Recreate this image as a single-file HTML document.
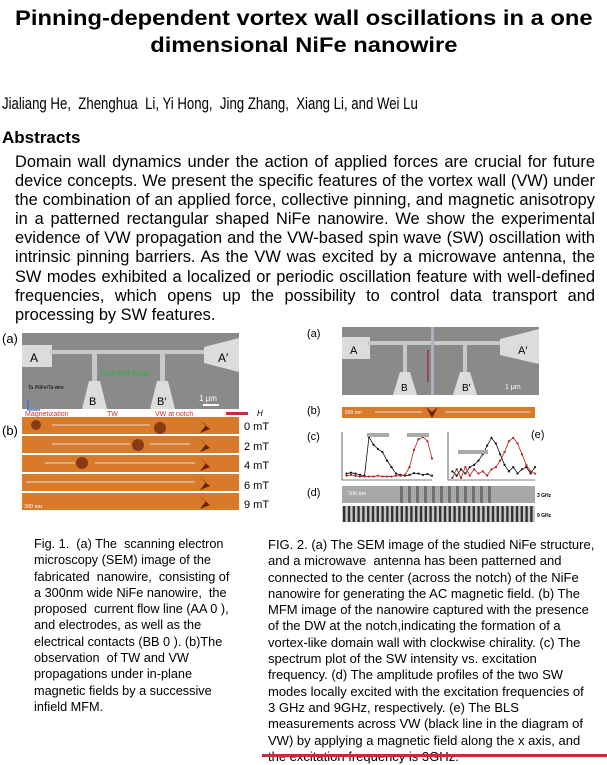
<!DOCTYPE html>
<html><head><meta charset="utf-8">
<style>
html,body{margin:0;padding:0;background:#fff;}
body{width:607px;height:757px;position:relative;overflow:hidden;font-family:"Liberation Sans",Arial,sans-serif;color:#000;}
.abs{position:absolute;}
.title{left:0;width:607px;text-align:center;font-weight:bold;font-size:21px;line-height:27px;top:5px;transform:scaleX(1.13);transform-origin:301px 0;}
.ab{left:15px;width:580px;top:153px;font-size:16.4px;line-height:19.1px;}
.ab div{text-align:justify;text-align-last:justify;white-space:nowrap;}
.ab div.last{text-align-last:left;}
.cap{font-size:13px;line-height:16.3px;}
.cap div{white-space:nowrap;}
</style></head>
<body>
<div class="abs title">Pinning-dependent vortex wall oscillations in a one<br>dimensional NiFe nanowire</div>
<div class="abs" style="left:2px;top:95px;font-size:16.5px;transform:scaleX(0.80);transform-origin:0 0;white-space:nowrap">Jialiang He,&nbsp; Zhenghua&nbsp; Li, Yi Hong,&nbsp; Jing Zhang,&nbsp; Xiang Li, and Wei Lu</div>
<div class="abs" style="left:2px;top:128px;font-size:17px;font-weight:bold">Abstracts</div>
<div class="abs ab">
<div>Domain wall dynamics under the action of applied forces are crucial for future</div>
<div>device concepts. We present the specific features of the vortex wall (VW) under</div>
<div>the combination of an applied force, collective pinning, and magnetic anisotropy</div>
<div>in a patterned rectangular shaped NiFe nanowire. We show the experimental</div>
<div>evidence of VW propagation and the VW-based spin wave (SW) oscillation with</div>
<div>intrinsic pinning barriers. As the VW was excited by a microwave antenna, the</div>
<div>SW modes exhibited a localized or periodic oscillation feature with well-defined</div>
<div>frequencies, which opens up the possibility to control data transport and</div>
<div class="last">processing by SW features.</div>
</div>

<!-- Figure 1 -->
<svg class="abs" style="left:0;top:325px" width="300" height="195">
<text x="2" y="18" font-size="13" font-family="Liberation Sans">(a)</text>
<g>
<rect x="22" y="8" width="217" height="76" fill="#8a8a8a"/>
<rect x="22" y="20" width="30" height="22" fill="#dcdcdc"/>
<text x="30" y="37" font-size="12" font-family="Liberation Sans">A</text>
<rect x="50" y="25" width="160" height="4" fill="#c8c8c8"/>
<polygon points="204,22 239,13 239,47 204,38" fill="#dcdcdc"/>
<text x="218" y="37" font-size="12" font-family="Liberation Sans">A′</text>
<rect x="92" y="28" width="5" height="30" fill="#c8c8c8"/>
<rect x="160" y="28" width="5" height="30" fill="#c8c8c8"/>
<polygon points="89,56 100,56 107,84 82,84" fill="#dcdcdc"/>
<polygon points="157,56 168,56 175,84 150,84" fill="#dcdcdc"/>
<text x="89" y="80" font-size="11" font-family="Liberation Sans">B</text>
<text x="157" y="80" font-size="11" font-family="Liberation Sans">B′</text>
<text x="100" y="51" font-size="9" fill="#2fae4a" font-family="Liberation Sans">Current flow</text>
<text x="28" y="64" font-size="5" fill="#000" font-family="Liberation Sans">Ta /NiFe/Ta wire</text>
<text x="199" y="76" font-size="8" fill="#fff" font-family="Liberation Sans">1 μm</text>
<rect x="203" y="79" width="16" height="2" fill="#fff"/>
<path d="M28 75 V85 H40" stroke="#3366cc" stroke-width="1.2" fill="none"/>
</g>
<text x="25" y="91" font-size="7" fill="#d03030" font-family="Liberation Sans">Magnetization</text>
<text x="107" y="91" font-size="7" fill="#d03030" font-family="Liberation Sans">TW</text>
<text x="155" y="91" font-size="7" fill="#d03030" font-family="Liberation Sans">VW at notch</text>
<rect x="226" y="87" width="22" height="3" fill="#c0303a"/>
<text x="257" y="91" font-size="8" font-style="italic" font-family="Liberation Sans">H</text>
<text x="2" y="110" font-size="13" font-family="Liberation Sans">(b)</text>
<g>
<rect x="22" y="92" width="217" height="17" fill="#d97a2a"/>
<rect x="22" y="111" width="217" height="17" fill="#d97a2a"/>
<rect x="22" y="130" width="217" height="17" fill="#d97a2a"/>
<rect x="22" y="149" width="217" height="17" fill="#d97a2a"/>
<rect x="22" y="168" width="217" height="17" fill="#d97a2a"/>
<g fill="#8a3a12"><circle cx="36" cy="100" r="5"/><circle cx="160" cy="103" r="6"/><circle cx="138" cy="120" r="6"/><circle cx="82" cy="138" r="6"/></g>
<g fill="#6b2208"><polygon points="198,94 206,100 200,108 210,104"/><polygon points="198,113 206,119 200,127 210,123"/><polygon points="198,132 206,138 200,146 210,142"/><polygon points="198,151 206,157 200,165 210,161"/><polygon points="198,170 206,176 200,184 210,180"/></g>
<g stroke="#ddd" stroke-width="1"><line x1="52" y1="100" x2="150" y2="100"/><line x1="52" y1="119" x2="130" y2="119"/><line x1="150" y1="119" x2="190" y2="119"/><line x1="45" y1="138" x2="75" y2="138"/><line x1="95" y1="138" x2="195" y2="138"/><line x1="26" y1="157" x2="195" y2="157"/></g>
<text x="24" y="183" font-size="6" fill="#fff" font-family="Liberation Serif">300 nm</text>
</g>
<g font-size="11" font-family="Liberation Sans">
<text x="244" y="105">0 mT</text><text x="244" y="125">2 mT</text><text x="244" y="144">4 mT</text><text x="244" y="164">6 mT</text><text x="244" y="183">9 mT</text>
</g>
</svg>

<!-- Figure 2 -->
<svg class="abs" style="left:300px;top:320px" width="307" height="210">
<g font-size="11" font-family="Liberation Sans"><text x="7" y="17">(a)</text><text x="7" y="94">(b)</text><text x="7" y="120">(c)</text><text x="7" y="176">(d)</text></g>
<g>
<rect x="42" y="7" width="197" height="68" fill="#8a8a8a"/>
<rect x="42" y="17" width="28" height="22" fill="#dcdcdc"/>
<text x="50" y="34" font-size="11" font-family="Liberation Sans">A</text>
<rect x="68" y="21" width="140" height="4" fill="#c8c8c8"/>
<polygon points="200,19 239,9 239,44 200,35" fill="#dcdcdc"/>
<text x="218" y="34" font-size="11" font-family="Liberation Sans">A′</text>
<rect x="103" y="24" width="4" height="30" fill="#c8c8c8"/><rect x="163" y="24" width="4" height="30" fill="#c8c8c8"/>
<polygon points="100,52 110,52 117,75 93,75" fill="#dcdcdc"/><polygon points="160,52 170,52 177,75 153,75" fill="#dcdcdc"/>
<text x="101" y="71" font-size="10" font-family="Liberation Sans">B</text><text x="162" y="71" font-size="10" font-family="Liberation Sans">B′</text>
<rect x="131" y="7" width="3" height="68" fill="#b0b0c0"/>
<line x1="128" y1="30" x2="128" y2="62" stroke="#a02020" stroke-width="1.2"/>
<text x="205" y="69" font-size="7" fill="#fff" font-family="Liberation Sans">1 μm</text>
</g>
<g>
<rect x="42" y="87" width="193" height="11" fill="#d97a2a"/>
<polygon points="126,87 132,92 138,87 132,98" fill="#6b2208"/>
<line x1="75" y1="92" x2="122" y2="92" stroke="#ddd"/><line x1="145" y1="92" x2="230" y2="92" stroke="#ddd"/>
<text x="45" y="94" font-size="5" fill="#fff">500 nm</text>
</g>
<g id="chartC"></g>
<g id="chartE"></g>
<text x="231" y="118" font-size="11" font-family="Liberation Sans">(e)</text>
<g>
<rect x="42" y="166" width="193" height="17" fill="#a8a8a8"/>
<g id="stripes3"></g>
<rect x="42" y="186" width="193" height="16" fill="#c8c8c8"/>
<g id="stripes9"></g>
<text x="48" y="175" font-size="6" fill="#fff" font-family="Liberation Serif">500 nm</text>
</g>
<g font-size="5" font-weight="bold" font-family="Liberation Sans"><text x="237" y="177">3 GHz</text><text x="237" y="197">9 GHz</text></g>
</svg>

<div class="abs cap" style="left:34px;top:536px;font-size:12.7px">
<div>Fig. 1.&nbsp; (a) The&nbsp; scanning electron</div>
<div>microscopy (SEM) image of the</div>
<div>fabricated&nbsp; nanowire,&nbsp; consisting of</div>
<div>a 300nm wide NiFe nanowire,&nbsp; the</div>
<div>proposed&nbsp; current flow line (AA 0 ),</div>
<div>and electrodes, as well as the</div>
<div>electrical contacts (BB 0 ). (b)The</div>
<div>observation&nbsp; of TW and VW</div>
<div>propagations under in-plane</div>
<div>magnetic fields by a successive</div>
<div>infield MFM.</div>
</div>
<div class="abs cap" style="left:268px;top:537px">
<div>FIG. 2. (a) The SEM image of the studied NiFe structure,</div>
<div>and a microwave&nbsp; antenna has been patterned and</div>
<div>connected to the center (across the notch) of the NiFe</div>
<div>nanowire for generating the AC magnetic field. (b) The</div>
<div>MFM image of the nanowire captured with the presence</div>
<div>of the DW at the notch,indicating the formation of a</div>
<div>vortex-like domain wall with clockwise chirality. (c) The</div>
<div>spectrum plot of the SW intensity vs. excitation</div>
<div>frequency. (d) The amplitude profiles of the two SW</div>
<div>modes locally excited with the excitation frequencies of</div>
<div>3 GHz and 9GHz, respectively. (e) The BLS</div>
<div>measurements across VW (black line in the diagram of</div>
<div>VW) by applying a magnetic field along the x axis, and</div>
<div>the excitation frequency is 3GHz.</div>
</div>
<div class="abs" style="left:262px;top:754px;width:345px;height:3px;background:#c0303a"></div>

<script>
const NS="http://www.w3.org/2000/svg";
const freqC=[0.5,1,1.5,2,2.5,3,3.5,4,4.5,5,5.5,6,6.5,7,7.5,8,8.5,9,9.5,10];
const blackC=[0.15,0.17,0.15,0.12,0.1,1.0,0.82,0.72,0.65,0.45,0.3,0.15,0.12,0.1,0.12,0.16,0.15,0.12,0.14,0.1];
const redC=[0.1,0.12,0.1,0.08,0.08,0.08,0.08,0.1,0.08,0.08,0.08,0.1,0.1,0.12,0.3,0.7,0.95,1.0,0.9,0.5];
const posE=[50,100,150,200,250,300,350,400,450,500,550,600,650,700,750,800,850,900,950,1000];
const blackE=[0.2,0.1,0.25,0.15,0.3,0.35,0.45,0.6,0.8,0.98,0.85,0.6,0.35,0.2,0.3,0.15,0.25,0.3,0.15,0.3];
const redE=[0.05,0.25,0.05,0.3,0.1,0.25,0.15,0.2,0.1,0.25,0.3,0.45,0.65,0.9,0.98,0.85,0.6,0.35,0.2,0.15];
function mk(tag,at,p){const e=document.createElementNS(NS,tag);for(const k in at)e.setAttribute(k,at[k]);p.appendChild(e);return e;}
function chart(g,xs,series,x0,x1,px0,px1,py0,py1){
  const sx=v=>px0+(v-x0)/(x1-x0)*(px1-px0), sy=v=>py1-v*(py1-py0);
  mk('path',{d:`M${px0} ${py0-5} V${py1} H${px1}`,stroke:'#000','stroke-width':0.6,fill:'none'},g);
  series.forEach(([vals,col])=>{
    const line=mk('polyline',{points:xs.map((x,i)=>sx(x)+','+sy(vals[i])).join(' '),stroke:col,'stroke-width':0.8,fill:'none'},g);
    
    
    xs.forEach((x,i)=>{const c=mk('circle',{cx:sx(x),cy:sy(vals[i]),r:1.1,fill:col},g);
      
      });
  });
}
chart(document.getElementById('chartC'),freqC,[[blackC,'#111'],[redC,'#b02020']],0,10,42,132,117,160);
chart(document.getElementById('chartE'),posE,[[blackE,'#111'],[redE,'#b02020']],0,1000,148,235,117,160);
const gc=document.getElementById('chartC');
mk('rect',{x:67,y:113,width:22,height:4,fill:'#aaa'},gc);mk('rect',{x:107,y:113,width:22,height:4,fill:'#aaa'},gc);
const ge=document.getElementById('chartE');mk('rect',{x:158,y:130,width:30,height:4,fill:'#aaa'},ge);
const g3=document.getElementById('stripes3');
for(let i=0;i<12;i++){mk('rect',{x:100+i*8,y:166,width:3,height:17,fill:'#707070'},g3);}
const g9=document.getElementById('stripes9');
for(let i=0;i<40;i++){mk('rect',{x:43+i*4.8,y:186,width:2.4,height:16,fill:'#333'},g9);}
</script>
</body></html>
